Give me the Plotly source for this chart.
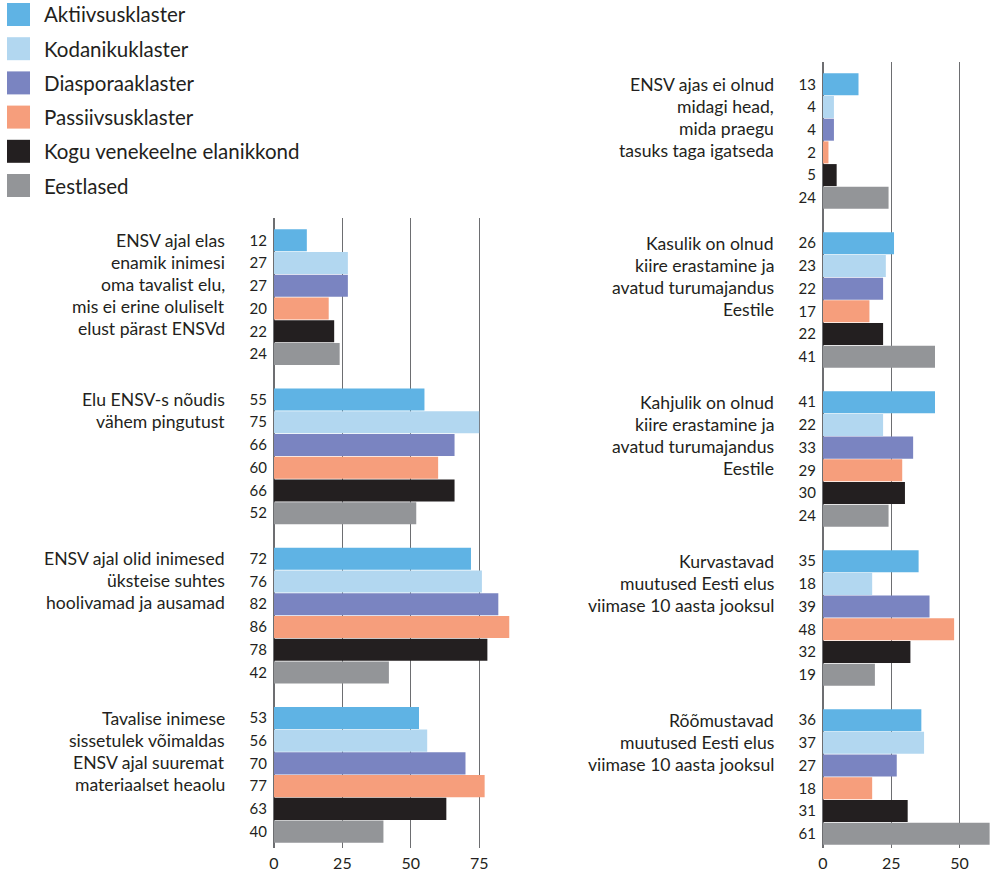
import plotly.graph_objects as go

W, H = 994, 871
FONT = "Lato"
TXT = "#231F20"
GRID = "#6D6E71"

series = ["Aktiivsusklaster", "Kodanikuklaster", "Diasporaaklaster",
          "Passiivsusklaster", "Kogu venekeelne elanikkond", "Eestlased"]
colors = ["#5FB3E4", "#B2D7F0", "#7A84C1", "#F69E7C", "#231F20", "#939598"]

# Left panel
left_labels = [
    ["ENSV ajal elas", "enamik inimesi", "oma tavalist elu,", "mis ei erine oluliselt", "elust pärast ENSVd"],
    ["Elu ENSV-s nõudis", "vähem pingutust"],
    ["ENSV ajal olid inimesed", "üksteise suhtes", "hoolivamad ja ausamad"],
    ["Tavalise inimese", "sissetulek võimaldas", "ENSV ajal suuremat", "materiaalset heaolu"],
]
left_values = [
    [12, 27, 27, 20, 22, 24],
    [55, 75, 66, 60, 66, 52],
    [72, 76, 82, 86, 78, 42],
    [53, 56, 70, 77, 63, 40],
]
left_ticks = [0, 25, 50, 75]

# Right panel
right_labels = [
    ["ENSV ajas ei olnud", "midagi head,", "mida praegu", "tasuks taga igatseda"],
    ["Kasulik on olnud", "kiire erastamine ja", "avatud turumajandus", "Eestile"],
    ["Kahjulik on olnud", "kiire erastamine ja", "avatud turumajandus", "Eestile"],
    ["Kurvastavad", "muutused Eesti elus", "viimase 10 aasta jooksul"],
    ["Rõõmustavad", "muutused Eesti elus", "viimase 10 aasta jooksul"],
]
right_values = [
    [13, 4, 4, 2, 5, 24],
    [26, 23, 22, 17, 22, 41],
    [41, 22, 33, 29, 30, 24],
    [35, 18, 39, 48, 32, 19],
    [36, 37, 27, 18, 31, 61],
]
right_ticks = [0, 25, 50]

STEP = 7  # 6 bars + 1 empty slot per group

fig = go.Figure()


def add_panel(values, xa, ya):
    for i, (name, col) in enumerate(zip(series, colors)):
        fig.add_trace(go.Bar(
            orientation="h",
            x=[grp[i] for grp in values],
            y=[g * STEP + i for g in range(len(values))],
            marker=dict(color=col, line=dict(width=0)),
            width=0.97, name=name, showlegend=False,
            xaxis=xa, yaxis=ya, hoverinfo="x+name",
        ))


add_panel(left_values, "x", "y")
add_panel(right_values, "x2", "y2")


def yticks(values):
    vals, txt = [], []
    for g, grp in enumerate(values):
        for i, v in enumerate(grp):
            vals.append(g * STEP + i)
            txt.append(str(v))
    return vals, txt


lv, lt = yticks(left_values)
rv, rt = yticks(right_values)

ax_common = dict(showgrid=True, gridcolor=GRID, gridwidth=1.4, zeroline=True,
                 zerolinecolor=GRID, zerolinewidth=1.6, showline=False, automargin=False,
                 ticks="", ticklabelstandoff=4,
                 tickfont=dict(family=FONT, size=16, color=TXT), fixedrange=True)
y_common = dict(showgrid=False, zeroline=False, showline=False, ticks="", automargin=False,
                tickfont=dict(family=FONT, size=15, color=TXT), ticklabelstandoff=6,
                fixedrange=True)

fig.update_layout(
    width=W, height=H,
    margin=dict(l=0, r=0, t=0, b=0, autoexpand=False),
    paper_bgcolor="white", plot_bgcolor="white",
    barmode="overlay",
    showlegend=False,
    xaxis=dict(domain=[274 / W, 512 / W], range=[0, 87], tickvals=left_ticks, anchor="y", **ax_common),
    yaxis=dict(domain=[1 - 848 / H, 1 - 218 / H], range=[26.72, -0.98],
               tickvals=lv, ticktext=lt, anchor="x", **y_common),
    xaxis2=dict(domain=[823 / W, 1.0], range=[0, 62.6], tickvals=right_ticks, anchor="y2", **ax_common),
    yaxis2=dict(domain=[1 - 848 / H, 1 - 62 / H], range=[33.63, -0.98],
                tickvals=rv, ticktext=rt, anchor="x2", **y_common),
)

annotations = []
shapes = []
LINE = 22


def add_labels(labels, xref, yref):
    for g, lines in enumerate(labels):
        for j, line in enumerate(lines):
            annotations.append(dict(
                text=line, xref=xref, yref=yref, x=0, y=g * STEP - 0.5,
                xanchor="right", yanchor="top", xshift=-47, yshift=-j * LINE + 1,
                showarrow=False, align="right",
                font=dict(family=FONT, size=17.6, color=TXT),
            ))


add_labels(left_labels, "x domain", "y")
add_labels(right_labels, "x2 domain", "y2")

# Legend (manual, large swatches)
for k, (name, col) in enumerate(zip(series, colors)):
    top = 3 + k * 34.2
    shapes.append(dict(type="rect", xref="paper", yref="paper",
                       x0=7 / W, x1=30 / W, y0=1 - (top + 23) / H, y1=1 - top / H,
                       fillcolor=col, line=dict(width=0)))
    annotations.append(dict(text=name, xref="paper", yref="paper",
                            x=42 / W, y=1 - (top + 11.5) / H, xanchor="left", yanchor="middle",
                            showarrow=False, font=dict(family=FONT, size=20.5, color=TXT)))

fig.update_layout(annotations=annotations, shapes=shapes)

fig.write_html(
    "out.html",
    config={"displayModeBar": False},
    post_script="document.body.style.margin='0';document.body.style.overflow='hidden';",
)
